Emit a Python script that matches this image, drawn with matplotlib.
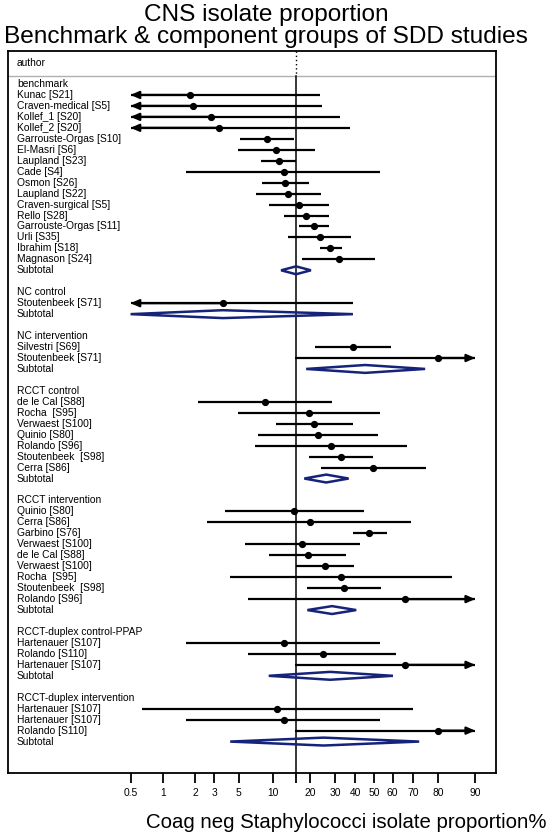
import matplotlib.pyplot as plt
import matplotlib.transforms as mtransforms
from matplotlib.patches import Polygon

plt.rcParams['font.family'] = ['Liberation Sans', 'DejaVu Sans']

# groups of studies, values in percent
group_names = ["benchmark", "NC control", "NC intervention", "RCCT control",
               "RCCT intervention", "RCCT-duplex control-PPAP", "RCCT-duplex intervention"]

study_names = [
    ["Kunac [S21]", "Craven-medical [S5]", "Kollef_1 [S20]", "Kollef_2 [S20]",
     "Garrouste-Orgas [S10]", "El-Masri [S6]", "Laupland [S23]", "Cade [S4]",
     "Osmon [S26]", "Laupland [S22]", "Craven-surgical [S5]", "Rello [S28]",
     "Garrouste-Orgas [S11]", "Urli [S35]", "Ibrahim [S18]", "Magnason [S24]"],
    ["Stoutenbeek [S71]"],
    ["Silvestri [S69]", "Stoutenbeek [S71]"],
    ["de le Cal [S88]", "Rocha  [S95]", "Verwaest [S100]", "Quinio [S80]",
     "Rolando [S96]", "Stoutenbeek  [S98]", "Cerra [S86]"],
    ["Quinio [S80]", "Cerra [S86]", "Garbino [S76]", "Verwaest [S100]",
     "de le Cal [S88]", "Verwaest [S100]", "Rocha  [S95]", "Stoutenbeek  [S98]",
     "Rolando [S96]"],
    ["Hartenauer [S107]", "Rolando [S110]", "Hartenauer [S107]"],
    ["Hartenauer [S107]", "Hartenauer [S107]", "Rolando [S110]"],
]

study_est = [
    [1.8, 1.9, 2.8, 3.35, 8.8, 10.7, 11.2, 12.3, 12.7, 13.3, 16.4, 18.5, 21.2, 23.4, 27.8, 31.6],
    [3.6],
    [38.7, 79.9],
    [8.5, 19.6, 21.4, 22.7, 28.2, 32.7, 49.4],
    [15.0, 19.8, 47.4, 17.3, 19.1, 25.4, 32.7, 34.3, 66.3],
    [12.3, 24.6, 66.3],
    [10.8, 12.3, 79.9],
]
study_lo = [
    [0.2, 0.2, 0.2, 0.2, 5.1, 4.9, 7.9, 1.66, 8.0, 7.1, 9.2, 12.4, 16.5, 13.4, 23.4, 17.3],
    [0.2],
    [21.5, 15.1],
    [2.13, 4.9, 10.6, 7.4, 7.0, 19.6, 24.1],
    [3.8, 2.6, 38.7, 5.65, 9.2, 15.6, 4.2, 18.9, 6.1],
    [1.66, 6.1, 15.1],
    [0.64, 1.66, 15.1],
]
study_hi = [
    [23.7, 24.4, 32.4, 37.0, 15.0, 21.8, 15.5, 53.3, 19.4, 24.0, 27.1, 27.1, 27.1, 37.8, 33.0, 50.6],
    [38.7],
    [59.2, 97.0],
    [28.6, 53.3, 38.7, 51.9, 67.1, 49.4, 75.5],
    [44.7, 69.0, 56.9, 42.5, 35.3, 39.0, 84.6, 53.7, 97.0],
    [53.3, 61.8, 97.0],
    [69.9, 53.3, 97.0],
]

sub_est = [15.5, 3.6, 45.2, 26.1, 28.6, 27.8, 25.0]
sub_lo = [11.7, 0.2, 18.6, 18.0, 19.0, 9.2, 4.2]
sub_hi = [20.2, 38.7, 75.2, 36.5, 40.4, 60.1, 72.7]

ref_line = sub_est[0]
tick_vals = [0.5, 1, 2, 3, 5, 10, 20, 30, 40, 50, 60, 70, 80, 90]
clip_lo, clip_hi = 0.5, 90

navy = '#16237a'
arrow = dict(arrowstyle='-|>,head_length=0.5,head_width=0.22',
             color='black', lw=1.6, shrinkA=0, shrinkB=0)

fig = plt.figure(figsize=(5.49, 8.34), dpi=100)
ax = fig.add_axes([8 / 549, 1 - 772.7 / 834, 488 / 549, (772.7 - 51) / 834])
ax.set_xscale('logit')
ax.set_xlim(0.00035, 0.934)

trans = mtransforms.blended_transform_factory(ax.transAxes, ax.transData)
fs = 7.4
tx = 9 / 488

y = 0
for g, gname in enumerate(group_names):
    ax.text(tx, y, gname, transform=trans, fontsize=fs, va='center', ha='left')
    y += 1
    for name, e, lo, hi in zip(study_names[g], study_est[g], study_lo[g], study_hi[g]):
        ax.text(tx, y, name, transform=trans, fontsize=fs, va='center', ha='left')
        l = max(lo, clip_lo) / 100
        h = min(hi, clip_hi) / 100
        ax.plot([l, h], [y, y], color='black', lw=1.6, solid_capstyle='butt', zorder=3)
        if lo < clip_lo:
            ax.annotate('', xy=(l, y), xytext=(e / 100, y), arrowprops=arrow, zorder=3)
        if hi > clip_hi:
            ax.annotate('', xy=(h, y), xytext=(e / 100, y), arrowprops=arrow, zorder=3)
        ax.plot(e / 100, y, 'o', color='black', ms=4.2, zorder=4)
        y += 1
    ax.text(tx, y, "Subtotal", transform=trans, fontsize=fs, va='center', ha='left')
    l = max(sub_lo[g], clip_lo) / 100
    h = min(sub_hi[g], clip_hi) / 100
    d = Polygon([(l, y), (sub_est[g] / 100, y - 0.36), (h, y), (sub_est[g] / 100, y + 0.36)],
                closed=True, fill=False, edgecolor=navy, lw=1.8, zorder=3)
    ax.add_patch(d)
    y += 2

ax.set_ylim(62.84, -3.01)

# header row
ax.text(tx, -1.92, "author", transform=trans, fontsize=fs, va='center', ha='left')
ax.axhline(-0.73, color='#b0b0b0', lw=1)
ax.plot([ref_line / 100] * 2, [-3.01, -0.73], color='black', lw=1, ls=(0, (1, 2)))
ax.plot([ref_line / 100] * 2, [-0.73, 62.84], color='black', lw=1.1, zorder=2)

for s in ax.spines.values():
    s.set_linewidth(1.3)

ticks = sorted(tick_vals + [ref_line])
ax.set_xticks([t / 100 for t in ticks])
ax.set_xticklabels(['' if t == ref_line else ('%g' % t) for t in ticks], fontsize=fs)
ax.xaxis.set_minor_locator(plt.NullLocator())
ax.tick_params(axis='x', length=7, width=1.3, pad=4)
ax.set_yticks([])

fig.text(266 / 549, 1 - 21 / 834, "CNS isolate proportion", ha='center', va='baseline', fontsize=17.6)
fig.text(266 / 549, 1 - 43 / 834, "Benchmark & component groups of SDD studies",
         ha='center', va='baseline', fontsize=17.6)
fig.text(546 / 549, 1 - 828 / 834, "Coag neg Staphylococci isolate proportion%",
         ha='right', va='baseline', fontsize=14.7)

fig.savefig('out.png', dpi=100)
